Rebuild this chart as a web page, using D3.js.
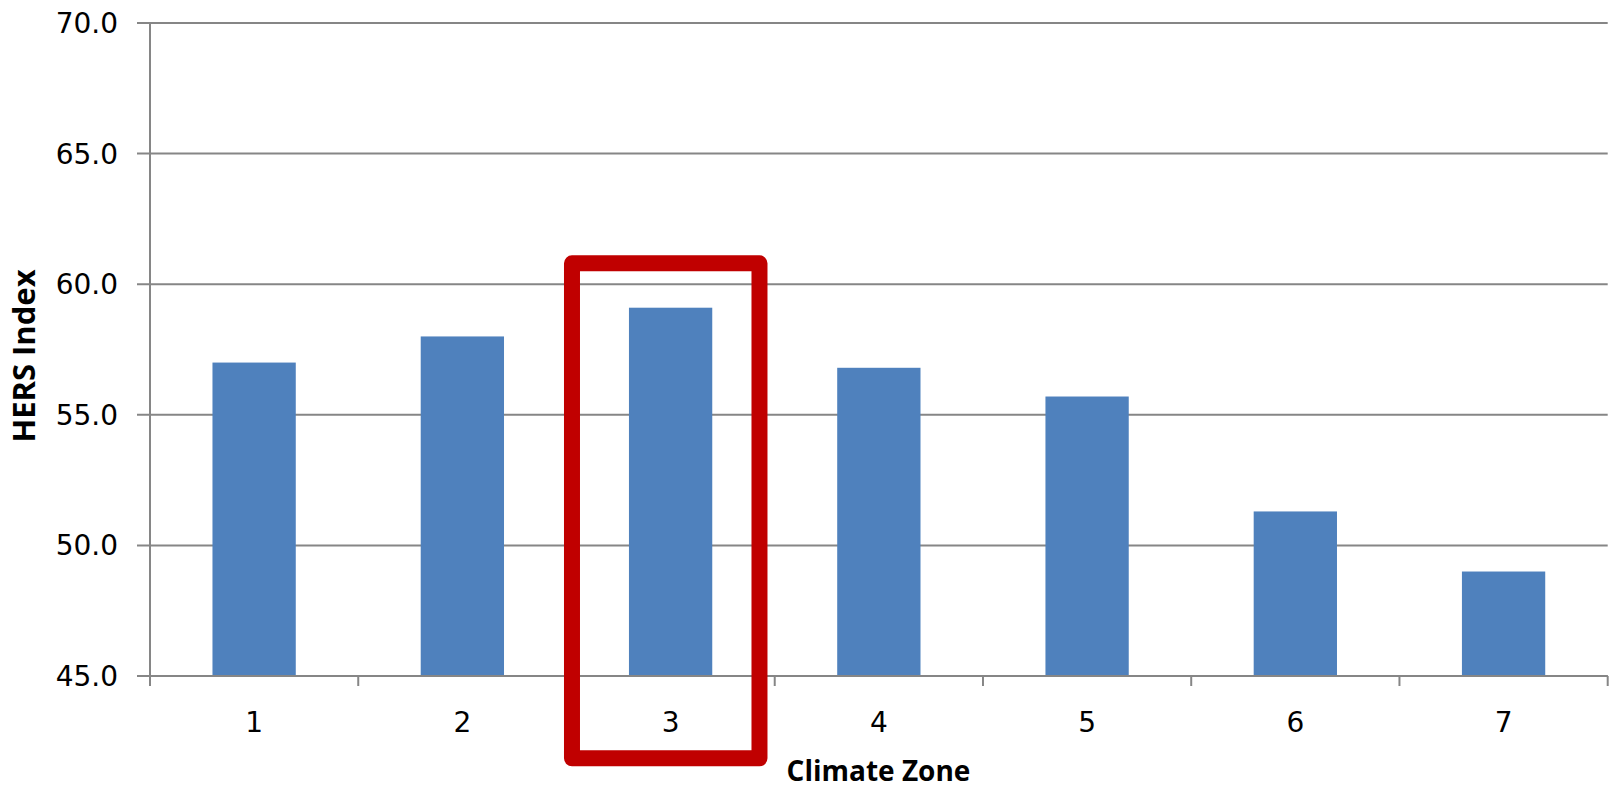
<!DOCTYPE html>
<html>
<head>
<meta charset="utf-8">
<script src="https://cdn.jsdelivr.net/npm/d3@7"></script>
<style>
  html, body { margin: 0; padding: 0; background: #fff; }
  svg { display: block; }
</style>
</head>
<body>
<svg id="chart" width="1616" height="788"></svg>
<script>
const categories = ["1", "2", "3", "4", "5", "6", "7"];
const hersIndex = [57.0, 58.0, 59.1, 56.8, 55.7, 51.3, 49.0];
const yTicks = [45, 50, 55, 60, 65, 70];
const highlighted = "3";
const xTitle = "Climate Zone";
const yTitle = "HERS Index";

(function () {
const svg = d3.select("#chart");
const plotLeft = 150, plotRight = 1607.7, plotTop = 23, plotBottom = 676;

const x = d3.scaleBand().domain(categories).range([plotLeft, plotRight])
  .paddingInner(0.6).paddingOuter(0.3);
const y = d3.scaleLinear().domain([45, 70]).range([plotBottom, plotTop]);

const gridColor = "#868686";

// gridlines (extend left as ticks)
svg.append("g").selectAll("line").data(yTicks).join("line")
  .attr("x1", plotLeft - 13).attr("x2", plotRight)
  .attr("y1", d => y(d)).attr("y2", d => y(d))
  .attr("stroke", gridColor).attr("stroke-width", 2);

// y-axis line
svg.append("line").attr("x1", plotLeft).attr("x2", plotLeft)
  .attr("y1", plotTop).attr("y2", plotBottom)
  .attr("stroke", gridColor).attr("stroke-width", 2);

// y tick labels
svg.append("g").selectAll("text").data(yTicks).join("text")
  .attr("x", plotLeft - 32).attr("y", d => y(d))
  .attr("dy", "0.36em")
  .attr("text-anchor", "end")
  .attr("font-family", "DejaVu Sans")
  .attr("font-size", 28)
  .attr("fill", "#000")
  .text(d => d3.format(".1f")(d));

// bars
svg.append("g").selectAll("rect").data(categories).join("rect")
  .attr("x", d => x(d))
  .attr("width", x.bandwidth())
  .attr("y", (d, i) => y(hersIndex[i]))
  .attr("height", (d, i) => y(45) - y(hersIndex[i]))
  .attr("fill", "#4F81BD");

// x-axis line
svg.append("line").attr("x1", plotLeft).attr("x2", plotRight)
  .attr("y1", plotBottom).attr("y2", plotBottom)
  .attr("stroke", gridColor).attr("stroke-width", 2);

// x ticks at band boundaries
const step = x.step();
const boundaries = d3.range(categories.length + 1).map(i => plotLeft + i * step);
svg.append("g").selectAll("line").data(boundaries).join("line")
  .attr("x1", d => d).attr("x2", d => d)
  .attr("y1", plotBottom).attr("y2", plotBottom + 10)
  .attr("stroke", gridColor).attr("stroke-width", 2);

// x tick labels
svg.append("g").selectAll("text").data(categories).join("text")
  .attr("x", d => x(d) + x.bandwidth() / 2)
  .attr("y", 732)
  .attr("text-anchor", "middle")
  .attr("font-family", "DejaVu Sans")
  .attr("font-size", 28)
  .attr("fill", "#000")
  .text(d => d);

// axis titles
svg.append("text")
  .attr("x", 878.5).attr("y", 781)
  .attr("text-anchor", "middle")
  .attr("font-family", "Open Sans")
  .attr("font-weight", "bold")
  .attr("font-size", 28)
  .attr("fill", "#000")
  .text(xTitle);

svg.append("text")
  .attr("transform", "translate(35,356) rotate(-90)")
  .attr("text-anchor", "middle")
  .attr("font-family", "Open Sans")
  .attr("font-weight", "bold")
  .attr("font-size", 31)
  .attr("fill", "#000")
  .text(yTitle);

// highlight box around category 3
const bandStart = x(highlighted) - (x.step() - x.bandwidth()) / 2;
svg.append("rect")
  .attr("x", bandStart + 5.5)
  .attr("y", y(60.8))
  .attr("width", 187.5)
  .attr("height", 758.3 - y(60.8))
  .attr("fill", "none")
  .attr("stroke", "#C00000")
  .attr("stroke-width", 16)
  .attr("stroke-linejoin", "round");
})();
</script>
</body>
</html>
